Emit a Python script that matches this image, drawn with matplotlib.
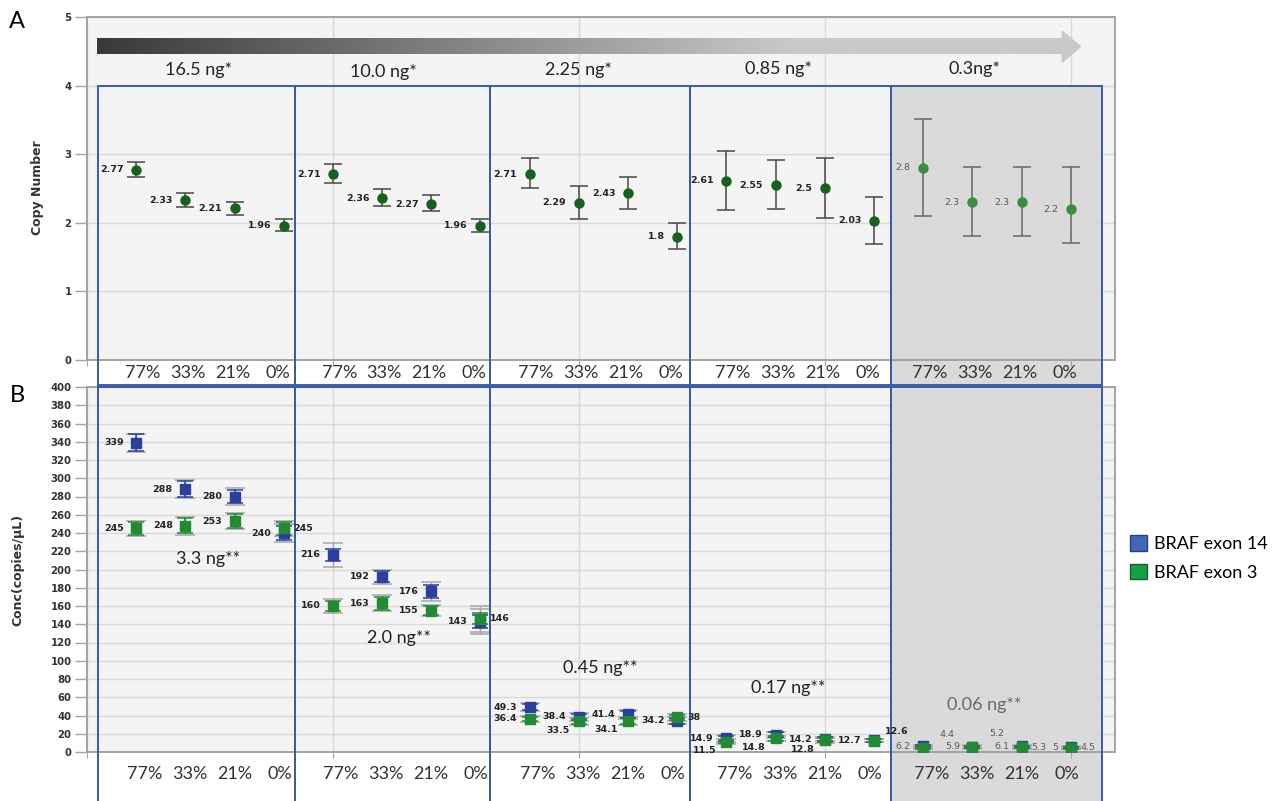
import numpy as np
import matplotlib.pyplot as plt
from matplotlib import font_manager
from matplotlib.patches import Rectangle, Polygon, Patch
from matplotlib.transforms import blended_transform_factory
from matplotlib.colors import LinearSegmentedColormap

# ---- data ----
tumor_pct = ['77%', '33%', '21%', '0%']
cn_doses = ['16.5 ng*', '10.0 ng*', '2.25 ng*', '0.85 ng*', '0.3ng*']
conc_doses = ['3.3 ng**', '2.0 ng**', '0.45 ng**', '0.17 ng**', '0.06 ng**']

# panel A: copy number with CI
copy_number = [2.77, 2.33, 2.21, 1.96, 2.71, 2.36, 2.27, 1.96, 2.71, 2.29,
               2.43, 1.8, 2.61, 2.55, 2.5, 2.03, 2.8, 2.3, 2.3, 2.2]
cn_low = [2.67, 2.23, 2.12, 1.88, 2.58, 2.24, 2.17, 1.86, 2.50, 2.06,
          2.20, 1.62, 2.18, 2.20, 2.07, 1.69, 2.10, 1.81, 1.81, 1.70]
cn_high = [2.89, 2.44, 2.31, 2.05, 2.85, 2.49, 2.40, 2.06, 2.94, 2.53,
           2.67, 1.99, 3.05, 2.92, 2.94, 2.38, 3.51, 2.81, 2.81, 2.81]

# panel B: concentration (copies/uL)
exon14 = [339, 288, 280, 240, 216, 192, 176, 143, 49.3, 38.4,
          41.4, 34.2, 14.9, 18.9, 14.2, 12.7, 6.2, 5.9, 6.1, 5]
exon14_err = [9, 8.5, 7.5, 8, 7, 6, 7, 7, 3, 3.5, 4, 3, 2.5, 2.5, 2, 1.5, 1, 1, 1, 1]
exon14_ci = [10, 10, 9, 10, 13, 8, 10, 14, 4, 4.5, 5, 4, 3.5, 3.5, 2.5, 2, 1.5, 1.5, 1.5, 1.5]
exon3 = [245, 248, 253, 245, 160, 163, 155, 146, 36.4, 33.5,
         34.1, 38, 11.5, 14.8, 12.8, 12.6, 4.4, 5.2, 5.3, 4.5]
exon3_err = [7, 8, 8, 7, 6, 7, 5, 6, 2.5, 3, 3, 3, 2, 2.5, 2, 1.5, 1, 1, 1, 1]
exon3_ci = [8, 10, 9, 8, 8, 9, 6, 14, 3.5, 4, 4, 4, 3, 3, 2.5, 2, 1.5, 1.5, 1.5, 1.5]

# where each value label sits relative to its marker
exon14_lab = ['L'] * 20
exon3_lab = ['L', 'L', 'L', 'R', 'L', 'L', 'L', 'R', 'L', 'BL',
             'BL', 'R', 'BL', 'BL', 'BL', 'UR', 'UR2', 'UR2', 'R', 'R']
lab_off = {'L': (-9, 0, 'right'), 'R': (7, 0, 'left'), 'BL': (-7, -6.5, 'right'),
           'UR': (8, 6.5, 'left'), 'UR2': (12, 10, 'left')}

names = {f.name for f in font_manager.fontManager.ttflist}
narrow = 'Liberation Sans Narrow' if 'Liberation Sans Narrow' in names else 'DejaVu Sans'
small = 8.5 if narrow != 'DejaVu Sans' else 6.8
tick_fs = 8.8 if narrow != 'DejaVu Sans' else 7.3
calib = 'Lato'

x = np.arange(1, 21)
box_edges = [0.22, 4.22, 8.2, 12.25, 16.35, 20.63]
n_groups = 5

W, H = 1281, 801
fig = plt.figure(figsize=(W / 100, H / 100), dpi=100)
ax1 = fig.add_axes([87 / W, 1 - 360 / H, 1028 / W, 343 / H])
ax2 = fig.add_axes([87 / W, 1 - 752 / H, 1028 / W, 365 / H])

frame_col = '#a3a3a3'
box_col = '#3a5ba8'
for ax in (ax1, ax2):
    ax.set_facecolor('#f4f4f4')
    for s in ax.spines.values():
        s.set_color(frame_col)
        s.set_linewidth(1.4)
    ax.grid(True, color='#d8d8d8', lw=1)
    ax.set_xticks([0, 5, 10, 15, 20])
    ax.tick_params(axis='x', length=4, color=frame_col, labelbottom=False)
    ax.tick_params(axis='y', length=9, color=frame_col, width=1, pad=2,
                   labelsize=tick_fs, labelcolor='#333333')

# ---------- panel A ----------
ax1.set_yticks(range(0, 6))
for lbl in ax1.get_yticklabels():
    lbl.set_fontfamily(narrow)
    lbl.set_fontweight('bold')

# gradient arrow
grad = np.clip(np.linspace(0, 1, 600) / 0.72, 0, 1)[None, :]
cmap = LinearSegmentedColormap.from_list('g', ['#393939', '#c9c9c9'])
ax1.imshow(grad, extent=[0.2, 19.84, 4.46, 4.68], aspect='auto', cmap=cmap,
           interpolation='bilinear', zorder=3)
ax1.add_patch(Polygon([(19.83, 4.34), (20.2, 4.57), (19.83, 4.79)],
                      closed=True, color='#c9c9c9', zorder=3))

tr1 = blended_transform_factory(ax1.transData, ax1.transAxes)
tr2 = blended_transform_factory(ax2.transData, ax2.transAxes)
for k in range(n_groups):
    x0, w = box_edges[k], box_edges[k + 1] - box_edges[k]
    if k == n_groups - 1:
        ax1.add_patch(Rectangle((x0, -0.073), w, 0.873, transform=tr1, facecolor='#dadada',
                                edgecolor='none', clip_on=False, zorder=0.9))
        ax2.add_patch(Rectangle((x0, -0.14), w, 1.14, transform=tr2, facecolor='#dadada',
                                edgecolor='none', clip_on=False, zorder=0.9))
    ax1.add_patch(Rectangle((x0, -0.073), w, 0.873, transform=tr1, fill=False,
                            edgecolor=box_col, lw=1.4, clip_on=False, zorder=6))
    ax2.add_patch(Rectangle((x0, -0.14), w, 1.14, transform=tr2, fill=False,
                            edgecolor=box_col, lw=1.4, clip_on=False, zorder=6))

cn = np.array(copy_number)
yerr = [cn - np.array(cn_low), np.array(cn_high) - cn]
for g in range(n_groups):
    sl = slice(4 * g, 4 * g + 4)
    faint = g == n_groups - 1
    ax1.errorbar(x[sl], cn[sl], yerr=[yerr[0][sl], yerr[1][sl]], fmt='o',
                 color='#3d8c40' if faint else '#17601d', ms=6.5,
                 ecolor='#666666' if faint else '#474747', elinewidth=1.1,
                 capsize=6.5, capthick=1.1, zorder=5)
    for xi, v in zip(x[sl], cn[sl]):
        ax1.annotate(f'{v:g}', (xi, v), xytext=(-9, 0), textcoords='offset points',
                     ha='right', va='center', fontsize=small, family=narrow,
                     weight='normal' if faint else 'bold',
                     color='#5a5a5a' if faint else '#222222')

dose_pos_a = [(2.26, 4.23), (6.02, 4.2), (10.0, 4.23), (14.05, 4.24), (18.05, 4.24)]
for (dx, dy), s in zip(dose_pos_a, cn_doses):
    ax1.text(dx, dy, s, ha='center', va='center', fontsize=13, family=calib,
             color='#222222', zorder=4)

# percent labels sit a bit tighter than the points under each group
for g in range(n_groups):
    mid = 4 * g + 2.5
    for j, pct in enumerate(tumor_pct):
        px = mid + (j - 1.5) * 0.915
        ax1.text(px, -0.038, pct, transform=tr1, ha='center', va='center',
                 fontsize=13, family=calib, color='#333333')
        ax2.text(px + 0.04, -0.06, pct, transform=tr2, ha='center', va='center',
                 fontsize=13, family=calib, color='#333333')

ax1.set_xlim(0, 20.9)
ax1.set_ylim(0, 5)

# ---------- panel B ----------
ax2.set_yticks(range(0, 401, 20))
for lbl in ax2.get_yticklabels():
    lbl.set_fontfamily(narrow)
    lbl.set_fontweight('bold')

series = [(exon14, exon14_err, exon14_ci, exon14_lab, '#2b3f9e'),
          (exon3, exon3_err, exon3_ci, exon3_lab, '#218a33')]
for vals, err, ci, labpos, col in series:
    ax2.errorbar(x, vals, yerr=ci, fmt='none', ecolor='#a6a6a6', elinewidth=1,
                 capsize=7, capthick=1.1, zorder=4)
    ax2.errorbar(x, vals, yerr=err, fmt='s', color=col, ms=6.5, ecolor=col,
                 elinewidth=1.1, capsize=5.5, capthick=1.1, zorder=5)
    for i, (xi, v) in enumerate(zip(x, vals)):
        ox, oy, ha = lab_off[labpos[i]]
        faint = i >= 16
        ax2.annotate(f'{v:g}', (xi, v), xytext=(ox, oy), textcoords='offset points',
                     ha=ha, va='center', fontsize=small, family=narrow,
                     weight='normal' if faint else 'bold',
                     color='#5a5a5a' if faint else '#222222', zorder=7)

dose_pos_b = [(2.46, 212), (6.35, 125), (10.43, 92), (14.25, 70), (18.24, 51.5)]
for k, ((dx, dy), s) in enumerate(zip(dose_pos_b, conc_doses)):
    ax2.text(dx, dy, s, ha='center', va='center', fontsize=13, family=calib,
             color='#6a6a6a' if k == n_groups - 1 else '#222222', zorder=4)

ax2.set_xlim(0, 20.9)
ax2.set_ylim(0, 400)

# ---------- labels & legend ----------
fig.text(38 / W, 1 - 188 / H, 'Copy Number', rotation=90, ha='center', va='center',
         fontsize=9, weight='bold', color='#333333')
fig.text(18 / W, 1 - 570 / H, 'Conc(copies/µL)', rotation=90, ha='center', va='center',
         fontsize=9, weight='bold', color='#333333')
fig.text(17 / W, 1 - 21 / H, 'A', ha='center', va='center', fontsize=17, family=calib)
fig.text(17 / W, 1 - 395 / H, 'B', ha='center', va='center', fontsize=17, family=calib)

handles = [Patch(facecolor='#4169b8', edgecolor='#2a3f80', label='BRAF exon 14'),
           Patch(facecolor='#13a04a', edgecolor='#1a5e30', label='BRAF exon 3')]
leg = fig.legend(handles=handles, loc='center left', bbox_to_anchor=(1114 / W, 1 - 558 / H),
                 frameon=False, handlelength=0.95, handleheight=0.95, handletextpad=0.35,
                 labelspacing=0.65, prop={'family': calib, 'size': 13})

fig.savefig('out.png', dpi=100)
